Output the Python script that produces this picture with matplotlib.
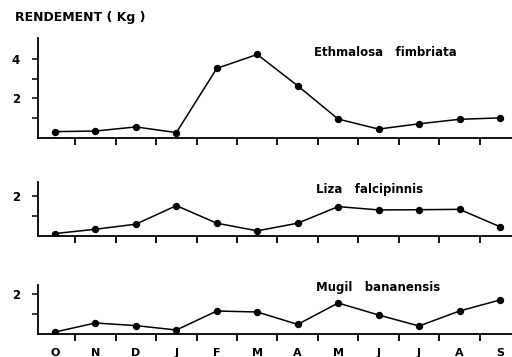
import matplotlib
matplotlib.use("Agg")
import matplotlib.pyplot as plt
import numpy as np

months = ["O", "N", "D", "J", "F", "M", "A", "M", "J", "J", "A", "S"]
ethmalosa = [0.30, 0.33, 0.54, 0.25, 3.53, 4.24, 2.64, 0.94, 0.43, 0.70, 0.93, 1.00]
liza = [0.10, 0.32, 0.58, 1.53, 0.63, 0.24, 0.63, 1.48, 1.31, 1.32, 1.34, 0.45]
mugil = [0.10, 0.55, 0.42, 0.20, 1.15, 1.10, 0.48, 1.55, 0.95, 0.40, 1.15, 1.70]
series_names = ["Ethmalosa   fimbriata", "Liza   falcipinnis", "Mugil   bananensis"]
y_major = [[2, 4], [2], [2]]
y_minor = [[1, 3], [1], [1]]
y_top = [5.08, 2.74, 2.45]
y_title = "RENDEMENT ( Kg )"

plt.rcParams["font.family"] = ["DejaVu Sans"]
W, H = 512, 357
fig = plt.figure(figsize=(W / 100, H / 100), dpi=100)

# panel pixel geometry: (top_px, zero_px)
panels = [(38, 137.5), (182, 235.5), (285, 334)]
x_left, x_right = 38, 512
x0_px, dx_px = 55, 40.45
xlim = ((x_left - x0_px) / dx_px, (x_right - x0_px) / dx_px)
data = [ethmalosa, liza, mugil]
label_pos = [(314, 52), (316, 190), (316, 287)]

x = np.arange(len(months))
for i, ((top, zero), vals) in enumerate(zip(panels, data)):
    ax = fig.add_axes([x_left / W, 1 - zero / H, (x_right - x_left) / W, (zero - top) / H])
    ax.plot(x, vals, color="black", lw=1.1, marker="o", ms=4.3, mfc="black", mec="black")
    ax.set_xlim(*xlim)
    ax.set_ylim(0, y_top[i])
    ax.spines["top"].set_visible(False)
    ax.spines["right"].set_visible(False)
    for s in ("left", "bottom"):
        ax.spines[s].set_linewidth(1.3)
    ax.set_yticks(y_major[i])
    ax.set_yticklabels([str(v) for v in y_major[i]], fontsize=8.5, fontweight="bold")
    ax.set_yticks(y_minor[i], minor=True)
    ax.tick_params(axis="y", which="both", direction="out", length=4, width=1.1, pad=9)
    ax.set_xticks(x[:-1] + 0.5)
    ax.set_xticklabels([])
    ax.tick_params(axis="x", which="both", direction="out", length=5, width=1.3)
    if i == 2:
        ax.set_xticks(x, minor=True)
        ax.set_xticklabels(months, minor=True, fontsize=8, fontweight="bold")
        ax.tick_params(axis="x", which="minor", length=0, pad=10)
    lx, ly = label_pos[i]
    fig.text(lx / W, 1 - ly / H, series_names[i], fontsize=8.5, fontweight="bold",
             ha="left", va="center")

fig.text(15 / W, 1 - 17 / H, y_title, fontsize=9, fontweight="bold", ha="left", va="center")

fig.savefig("out.png", dpi=100)
